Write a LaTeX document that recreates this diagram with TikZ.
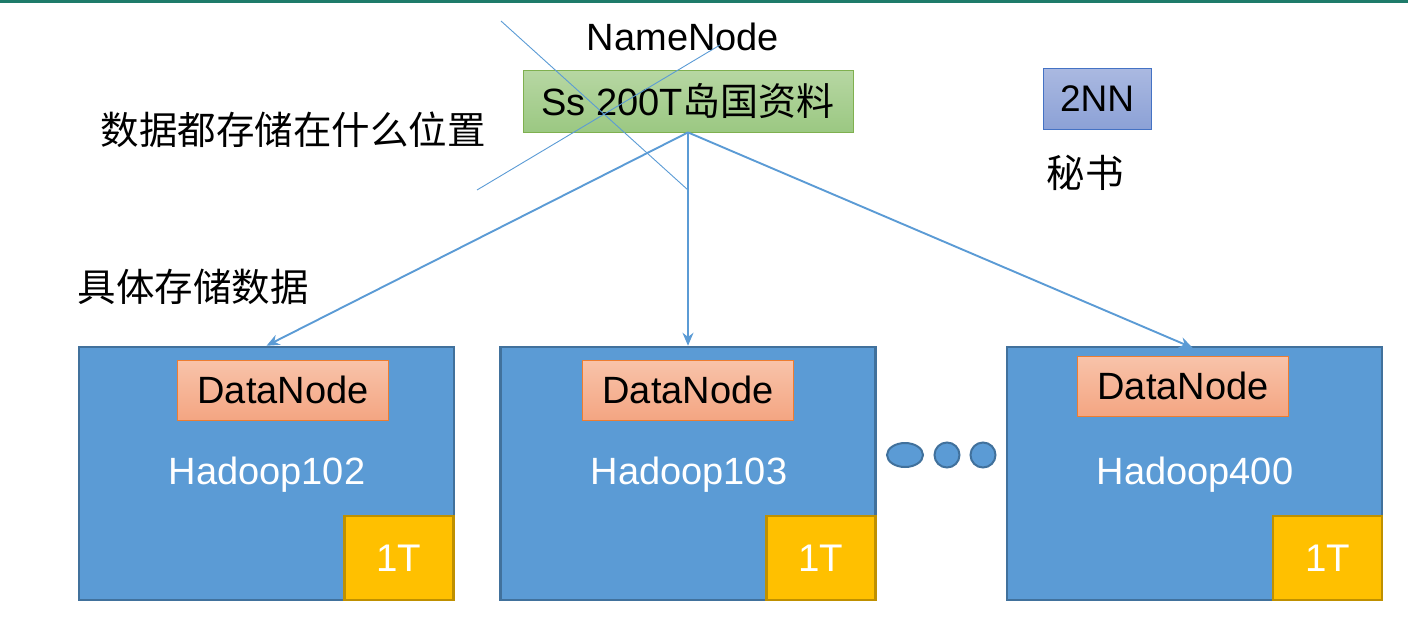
\documentclass[tikz,border=0pt]{standalone}
\usepackage{fontspec}
\setmainfont{Liberation Sans}
\newfontfamily\cjk{Noto Sans CJK SC}
\usetikzlibrary{arrows.meta,shapes.geometric}
\definecolor{topline}{HTML}{1E7B6A}
\definecolor{hfill}{HTML}{5B9BD5}
\definecolor{hborder}{HTML}{41719C}
\definecolor{arrowc}{HTML}{5B9BD5}
\definecolor{tfill}{HTML}{FFC000}
\definecolor{tborder}{HTML}{BF9000}
\definecolor{dntop}{HTML}{F8C3AA}
\definecolor{dnbot}{HTML}{F4A582}
\definecolor{dnborder}{HTML}{ED7D31}
\definecolor{gtop}{HTML}{B7D7A3}
\definecolor{gbot}{HTML}{9BC882}
\definecolor{gborder}{HTML}{7FB04F}
\definecolor{btop}{HTML}{AAB9E1}
\definecolor{bbot}{HTML}{8CA1D6}
\definecolor{bborder}{HTML}{4472C4}
\tikzset{
  txt/.style={font=\fontsize{38}{42}\selectfont, inner sep=0pt},
  cjktxt/.style={font=\cjk\fontsize{38.5}{42}\selectfont, inner sep=0pt},
  hbox/.style={draw=hborder, line width=2.5pt, fill=hfill, minimum width=375pt, minimum height=253pt, inner sep=0pt},
  dnbox/.style={draw=dnborder, line width=0.8pt, top color=dntop, bottom color=dnbot, minimum width=211pt, minimum height=60pt, inner sep=0pt, font=\fontsize{38}{42}\selectfont},
  tbox/.style={draw=tborder, line width=2.5pt, fill=tfill, minimum width=109pt, minimum height=84pt, inner sep=0pt, text=white, font=\fontsize{38.5}{42}\selectfont},
  hlabel/.style={text=white, font=\fontsize{38}{42}\selectfont, inner sep=0pt},
  conn/.style={draw=arrowc, line width=1.9pt, -{Stealth[length=13pt,width=11pt]}},
  cross/.style={draw=arrowc, line width=0.9pt},
  dot/.style={draw=hborder, line width=2pt, fill=hfill, inner sep=0pt}
}
\begin{document}
\begin{tikzpicture}[x=1pt,y=-1pt]
\useasboundingbox (0,0) rectangle (1408,641);
\fill[topline] (0,0) rectangle (1408,3);

% NameNode
\node[txt] (nnlabel) at (683,37) {NameNode};
\node[draw=gborder, line width=0.8pt, top color=gtop, bottom color=gbot, minimum width=330pt, minimum height=62pt, inner sep=0pt, font=\fontsize{38}{42}\selectfont] (nn) at (688,101) {Ss 200T{\cjk 岛国资料}};
\draw[cross] (501,21) -- (688,190);
\draw[cross] (477,190) -- (720,45);

% 2NN
\node[draw=bborder, line width=0.8pt, top color=btop, bottom color=bbot, minimum width=108pt, minimum height=61pt, inner sep=0pt, font=\fontsize{37}{42}\selectfont] (snn) at (1097,98.5) {2NN};
\node[cjktxt] (sec) at (1085,173) {秘书};

% Left labels
\node[cjktxt] (q) at (293,130) {数据都存储在什么位置};
\node[cjktxt] (store) at (193,287) {具体存储数据};

% Hadoop boxes
\node[hbox] (h1) at (266.5,473.5) {};
\node[hbox] (h2) at (688,473.5) {};
\node[hbox] (h3) at (1194.5,473.5) {};

\node[dnbox] (d1) at (283,390) {DataNode};
\node[dnbox] (d2) at (688,390) {DataNode};
\node[dnbox] (d3) at (1183,386) {DataNode};

\node[hlabel] (l1) at (267,475) {Hadoop102};
\node[hlabel] (l2) at (689,475) {Hadoop103};
\node[hlabel] (l3) at (1195,475) {Hadoop400};

\node[tbox] (t1) at (399,558) {1T};
\node[tbox] (t2) at (821,558) {1T};
\node[tbox] (t3) at (1327.5,558) {1T};

% dots
\node[dot, ellipse, minimum width=36pt, minimum height=24pt] (e1) at (905,455) {};
\node[dot, circle, minimum size=25pt] (e2) at (947,455) {};
\node[dot, circle, minimum size=25pt] (e3) at (983,455) {};

% connectors
\draw[conn] (nn.south) -- (h1.north);
\draw[conn] (nn.south) -- (h2.north);
\draw[conn] (nn.south) -- ([xshift=-2pt,yshift=-2pt]h3.north);
\end{tikzpicture}
\end{document}
